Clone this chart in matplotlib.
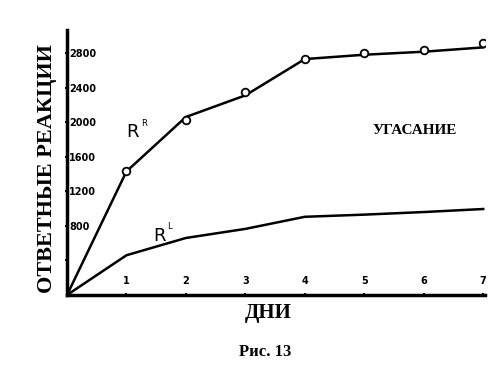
import matplotlib.pyplot as plt

days = [0, 1, 2, 3, 4, 5, 6, 7]
# R^R curve (line) and the observed points (circles)
rr_line = [0, 1430, 2060, 2310, 2730, 2780, 2815, 2865]
rr_obs_days = [1, 2, 3, 4, 5, 6, 7]
rr_obs = [1430, 2025, 2350, 2730, 2800, 2830, 2910]
# R^L curve
rl_line = [0, 460, 660, 765, 905, 930, 960, 995]

yticks = [400, 800, 1200, 1600, 2000, 2400, 2800]
ytick_labels = ["", "800", "1200", "1600", "2000", "2400", "2800"]
xticks = [1, 2, 3, 4, 5, 6, 7]

serif = "Liberation Serif"

fig = plt.figure(figsize=(5, 3.76), dpi=100)
ax = fig.add_axes([0.134, 0.2154, 0.836, 0.705])

ax.plot(days, rr_line, color="black", lw=1.8)
ax.plot(rr_obs_days, rr_obs, "o", mfc="white", mec="black", ms=5.5, mew=1.3)
ax.plot(days, rl_line, color="black", lw=1.8)

ax.set_xlim(0, 7.03)
ax.set_ylim(0, 3067)

for s in ["top", "right"]:
    ax.spines[s].set_visible(False)
ax.spines["left"].set_linewidth(2.5)
ax.spines["bottom"].set_linewidth(2.5)

ax.set_yticks(yticks)
ax.set_yticklabels(ytick_labels, fontsize=7, fontweight="bold")
ax.tick_params(axis="y", direction="inout", length=3, width=1.5, pad=-3)
for lab in ax.get_yticklabels():
    lab.set_ha("left")

ax.set_xticks(xticks)
ax.set_xticklabels([str(d) for d in xticks], fontsize=7, fontweight="bold")
ax.tick_params(axis="x", direction="inout", length=3, width=1.5, pad=-8)
for lab in ax.get_xticklabels():
    lab.set_va("bottom")

ax.text(1.0, 1830, "R", fontsize=13, family="DejaVu Sans")
ax.text(1.24, 1950, "R", fontsize=6, family="DejaVu Sans")
ax.text(1.45, 630, "R", fontsize=13, family="DejaVu Sans")
ax.text(1.69, 760, "L", fontsize=6, family="DejaVu Sans")
ax.text(5.85, 1900, "УГАСАНИЕ", fontsize=11, fontweight="bold", family=serif,
        ha="center", va="center")

fig.text(0.094, 0.553, "ОТВЕТНЫЕ РЕАКЦИИ", rotation=90, fontsize=16,
         fontweight="bold", family=serif, ha="center", va="center")
fig.text(0.536, 0.167, "ДНИ", fontsize=15, fontweight="bold", family=serif,
         ha="center", va="center")
fig.text(0.53, 0.064, "Рис. 13", fontsize=12, fontweight="bold", family=serif,
         ha="center", va="center")

fig.savefig("out.png", dpi=100)
